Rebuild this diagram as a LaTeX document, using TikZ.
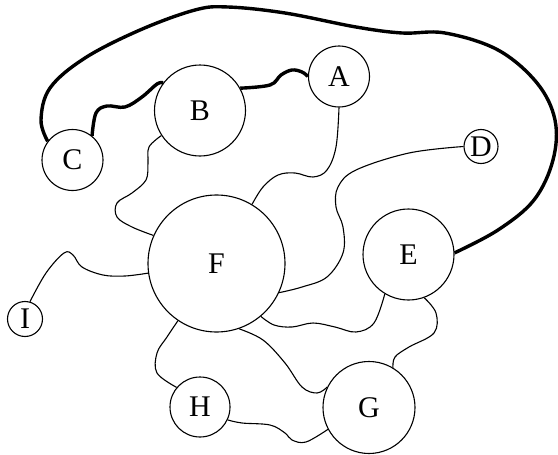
\documentclass[tikz,border=0pt]{standalone}
\usepackage{fontspec}
\setmainfont{Liberation Serif}
\begin{document}
\begin{tikzpicture}[x=1pt,y=-1pt,
  vtx/.style={circle,draw,line width=1.1pt,inner sep=0pt,font=\fontsize{30}{30}\selectfont},
  link/.style={line width=1.1pt},
  boldlink/.style={line width=3.4pt},
  curve/.style={smooth,tension=0.6}]
\useasboundingbox (0,0) rectangle (558,455);
\node[vtx,minimum size=61pt] (A) at (339,76.5) {A};
\node[vtx,minimum size=91pt] (B) at (200,110.5) {B};
\node[vtx,minimum size=61pt] (C) at (72.5,160) {C};
\node[vtx,minimum size=34pt] (D) at (481,146.5) {D};
\node[vtx,minimum size=91pt] (E) at (408.5,254.5) {E};
\node[vtx,minimum size=137pt] (F) at (216.5,263.5) {F};
\node[vtx,minimum size=92pt] (G) at (369,407.5) {G};
\node[vtx,minimum size=60pt] (H) at (200,407) {H};
\node[vtx,minimum size=35pt] (I) at (25,319) {I};
% thick connectors
\draw[boldlink] plot[curve] coordinates {(C.143) (41,120) (50,88) (85,58) (140,30) (195,10) (228,7) (285,13) (356,27) (402,33) (445,33) (498,50) (537,83) (555,120) (553,160) (534,200) (498,230) (E.2)};
\draw[boldlink] plot[curve] coordinates {(C.51) (96,113) (107,106) (125,107) (142,97) (157,84) (B.143)};
\draw[boldlink] plot[curve] coordinates {(B.29) (270,85) (281,75) (292,70) (302,72) (A.180)};
% thin connectors
\draw[link] plot[curve] coordinates {(A.270) (336,147) (327,170) (313,177) (295,173) (278,175) (263,187) (F.59.5)};
\draw[link] plot[curve] coordinates {(B.213.5) (149,147) (148,163) (146,180) (132,193) (117,203) (117,217) (132,227) (F.156)};
\draw[link] plot[curve] coordinates {(I.74) (46,273) (64,253) (73,255) (82,267) (103,275) (125,276) (F.188)};
\draw[link] plot[curve] coordinates {(D.180) (409,153) (356,170) (338,187) (336,207) (343,227) (343,253) (327,277) (302,287) (F.335)};
\draw[link] plot[curve] coordinates {(F.310) (274,325) (292,327) (313,323) (335,327) (356,332) (374,323) (E.239)};
\draw[link] plot[curve] coordinates {(E.290) (436,313) (434,333) (409,347) (395,357) (G.59)};
\draw[link] plot[curve] coordinates {(F.289) (263,340) (285,363) (302,387) (317,393) (G.154)};
\draw[link] plot[curve] coordinates {(F.236) (167,337) (157,353) (157,373) (H.140)};
\draw[link] plot[curve] coordinates {(H.335) (242,423) (270,425) (285,433) (292,440) (306,442) (G.208)};
\end{tikzpicture}
\end{document}
